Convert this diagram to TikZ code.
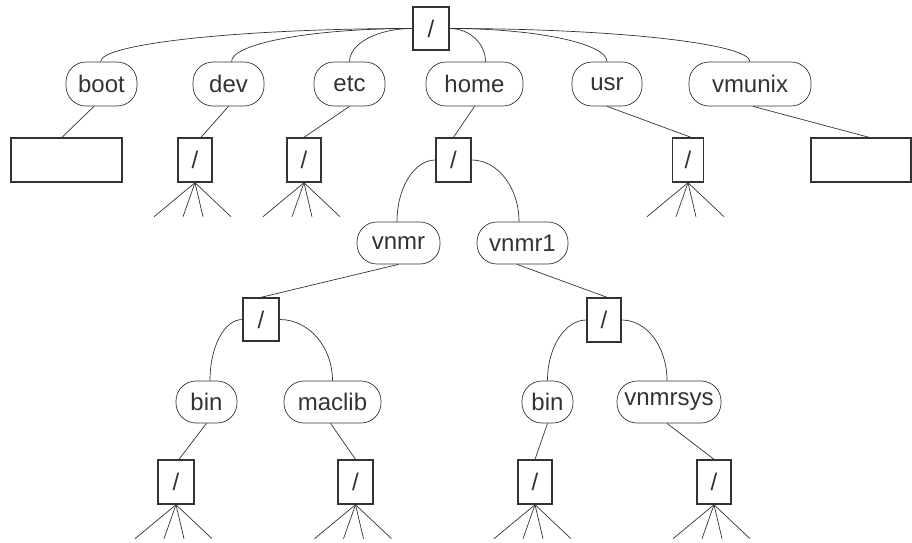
\documentclass[tikz,border=0pt]{standalone}
\usepackage{fontspec}
\setmainfont{Liberation Sans}
\usetikzlibrary{calc}
\definecolor{ink}{HTML}{333333}
\begin{document}
\begin{tikzpicture}[x=1pt,y=-1pt,
  every node/.style={text=ink,font=\fontsize{24}{28}\selectfont,inner sep=0pt},
  oval/.style={draw=ink,line width=0.7pt,rectangle,rounded corners=20pt,minimum height=44pt},
  dirbox/.style={draw=ink,line width=1.4pt,rectangle,minimum width=35pt,minimum height=44pt},
  conn/.style={draw=ink,line width=0.7pt},
  fanline/.style={draw=ink,line width=0.7pt}]
\useasboundingbox (0,0) rectangle (912,542);
% root
\node[dirbox,minimum width=36pt,minimum height=43pt] (root) at (431,28.5) {/};
% top-level ovals
\node[oval,minimum width=71pt] (boot) at (101.5,84) {boot};
\node[oval,minimum width=71pt] (dev) at (228.5,84) {dev};
\node[oval,minimum width=71pt] (etc) at (349.5,84) {etc};
\node[oval,minimum width=97pt] (home) at (474.5,84) {home};
\node[oval,minimum width=70pt] (usr) at (607,84) {usr};
\node[oval,minimum width=122pt] (vmunix) at (750,84) {vmunix};
% second row boxes
\node[dirbox,minimum width=111pt] (bootbox) at (66.5,160) {};
\node[dirbox,minimum width=34pt] (devbox) at (195,160) {/};
\node[dirbox,minimum width=34pt] (etcbox) at (304,160) {/};
\node[dirbox,minimum width=35pt] (homebox) at (453.5,160) {/};
\node[dirbox,minimum width=31pt] (usrbox) at (688,160) {/};
\node[dirbox,minimum width=100pt] (vmunixbox) at (861,160) {};
% third row
\node[oval,minimum width=83pt,minimum height=42pt] (vnmr) at (398.5,243) {vnmr};
\node[oval,minimum width=91pt,minimum height=42pt] (vnmr1) at (522.5,243) {vnmr1};
\node[dirbox,minimum width=36pt,minimum height=43pt] (vnmrbox) at (261,319.5) {/};
\node[dirbox,minimum width=34pt] (vnmr1box) at (604,320) {/};
% fourth row
\node[oval,minimum width=61pt,minimum height=42pt] (bina) at (206.5,402) {bin};
\node[oval,minimum width=97pt,minimum height=42pt] (maclib) at (332.5,402) {maclib};
\node[oval,minimum width=51pt,minimum height=42pt] (binb) at (547.5,402) {bin};
\node[oval,minimum width=104pt,minimum height=42pt] (vnmrsys) at (669,402) {vnmrsys};
% bottom boxes
\node[dirbox,minimum width=36pt] (binabox) at (176,482) {/};
\node[dirbox,minimum width=35pt] (maclibbox) at (355.5,482) {/};
\node[dirbox,minimum width=34pt] (binbbox) at (535,482) {/};
\node[dirbox,minimum width=34pt] (vnmrsysbox) at (714,482) {/};
% root curves
\draw[conn] (root.west) .. controls +(-171,0) and +(0,-18) .. ([xshift=-1pt]boot.north);
\draw[conn] (root.west) .. controls +(-101,0) and +(0,-18) .. ([xshift=3pt]dev.north);
\draw[conn] (root.west) .. controls +(-35,0) and +(0,-18) .. (etc.north);
\draw[conn] (root.east) .. controls +(20,0) and +(0,-18) .. ([xshift=11pt]home.north);
\draw[conn] (root.east) .. controls +(87,0) and +(0,-18) .. (usr.north);
\draw[conn] (root.east) .. controls +(165,0) and +(0,-18) .. (vmunix.north);
% oval to box lines
\draw[conn] ([xshift=-7.5pt]boot.south) -- ([xshift=-4.5pt]bootbox.north);
\draw[conn] (dev.south) -- ([xshift=6pt]devbox.north);
\draw[conn] (etc.south) -- (etcbox.north);
\draw[conn] (home.south) -- (homebox.north);
\draw[conn] (usr.south) -- ([xshift=3pt]usrbox.north);
\draw[conn] ([xshift=3pt]vmunix.south) -- ([xshift=8pt]vmunixbox.north);
\draw[conn] (vnmr.south) -- (vnmrbox.north);
\draw[conn] ([xshift=-5.5pt]vnmr1.south) -- ([xshift=3pt]vnmr1box.north);
\draw[conn] (bina.south) -- ([xshift=3pt]binabox.north);
\draw[conn] ([xshift=-2pt]maclib.south) -- (maclibbox.north);
\draw[conn] (binb.south) -- (binbbox.north);
\draw[conn] ([xshift=-2pt]vnmrsys.south) -- (vnmrsysbox.north);
% box curves
\draw[conn] (homebox.west) .. controls +(-21,0) and +(0,-34) .. ([xshift=-1.5pt]vnmr.north);
\draw[conn] (homebox.east) .. controls +(26,0) and +(0,-34) .. ([xshift=-3.5pt]vnmr1.north);
\draw[conn] (vnmrbox.west) .. controls +(-18,0) and +(0,-34) .. ([xshift=3.5pt]bina.north);
\draw[conn] (vnmrbox.east) .. controls +(29,0) and +(0,-34) .. (maclib.north);
\draw[conn] (vnmr1box.west) .. controls +(-21,0) and +(0,-34) .. (binb.north);
\draw[conn] (vnmr1box.east) .. controls +(25,0) and +(0,-34) .. ([xshift=-2pt]vnmrsys.north);
% fans
\foreach \b in {devbox,etcbox,usrbox,binabox,maclibbox,binbbox,vnmrsysbox}{
  \foreach \dx in {-41,-12,8,36}{
    \coordinate (f-\b-\dx) at ($(\b.south)+(\dx,34)$);
    \draw[fanline] (\b.south) -- (f-\b-\dx);
  }
}
\end{tikzpicture}
\end{document}
